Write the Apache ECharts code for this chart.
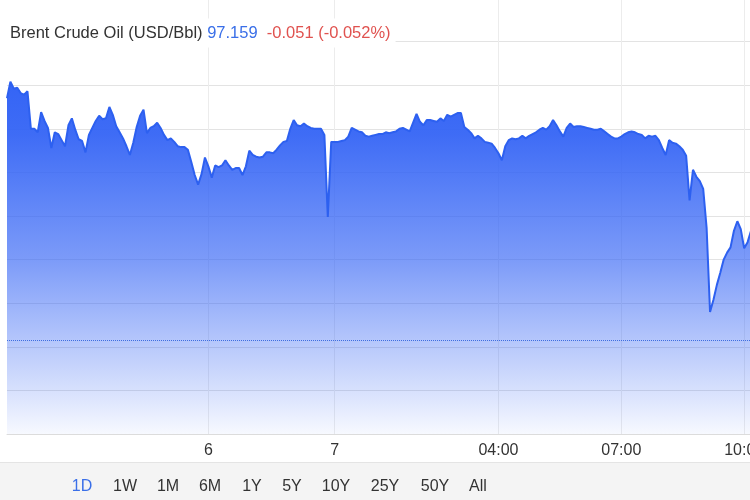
<!DOCTYPE html>
<html>
<head>
<meta charset="utf-8">
<script src="https://cdn.jsdelivr.net/npm/echarts@6/dist/echarts.min.js"></script>
<style>
  html, body { margin: 0; padding: 0; background: #fff; }
  #chart { width: 750px; height: 500px; }
</style>
</head>
<body>
<div id="chart"></div>
<script>
// ---- header text ----
const seriesName = 'Brent Crude Oil (USD/Bbl)';
const lastPrice = '97.159';
const changeText = '-0.051 (-0.052%)';
const prevClose = 96.07;

// ---- time axis: 5-minute bars from 16:00 to 10:10 next day ----
const startTime = '16:00';
const barMinutes = 5;
const barCount = 219;

// ---- x tick labels ----
const tickTimes = ['20:55', '00:00', '04:00', '07:00', '10:00'];
const tickLabels = ['6', '7', '04:00', '07:00', '10:00'];

// ---- range buttons ----
const rangeLabels = ['1D', '1W', '1M', '6M', '1Y', '5Y', '10Y', '25Y', '50Y', 'All'];
const rangeActive = '1D';

// ---- price series (USD/Bbl), one value per 5-minute bar ----
const prices = [
  98.85, 99.04, 98.96, 98.97, 98.91, 98.89, 98.93, 98.50, 98.50, 98.46,
  98.69, 98.59, 98.51, 98.28, 98.46, 98.44, 98.37, 98.30, 98.54, 98.62,
  98.49, 98.38, 98.36, 98.23, 98.43, 98.51, 98.59, 98.65, 98.61, 98.62,
  98.75, 98.66, 98.53, 98.46, 98.39, 98.30, 98.20, 98.34, 98.52, 98.65,
  98.72, 98.45, 98.51, 98.53, 98.57, 98.51, 98.43, 98.37, 98.39, 98.35,
  98.30, 98.29, 98.29, 98.26, 98.12, 97.97, 97.86, 97.98, 98.17, 98.07,
  97.94, 98.08, 98.06, 98.08, 98.14, 98.08, 98.03, 98.05, 98.05, 97.97,
  98.07, 98.25, 98.20, 98.18, 98.17, 98.18, 98.23, 98.23, 98.22, 98.26,
  98.31, 98.35, 98.36, 98.50, 98.60, 98.54, 98.53, 98.56, 98.53, 98.51,
  98.50, 98.50, 98.50, 98.43, 97.49, 98.35, 98.35, 98.35, 98.36, 98.37,
  98.41, 98.51, 98.49, 98.47, 98.46, 98.42, 98.41, 98.42, 98.43, 98.44,
  98.44, 98.46, 98.45, 98.46, 98.47, 98.50, 98.51, 98.49, 98.47, 98.57,
  98.67, 98.58, 98.54, 98.60, 98.60, 98.59, 98.58, 98.62, 98.59, 98.66,
  98.64, 98.66, 98.68, 98.68, 98.52, 98.49, 98.45, 98.39, 98.42, 98.39,
  98.35, 98.34, 98.33, 98.28, 98.22, 98.14, 98.30, 98.37, 98.39, 98.38,
  98.39, 98.42, 98.39, 98.42, 98.44, 98.46, 98.49, 98.51, 98.49, 98.53,
  98.60, 98.54, 98.47, 98.41, 98.51, 98.56, 98.52, 98.53, 98.53, 98.52,
  98.51, 98.50, 98.49, 98.49, 98.50, 98.47, 98.44, 98.41, 98.39, 98.39,
  98.41, 98.44, 98.46, 98.47, 98.46, 98.44, 98.43, 98.39, 98.42, 98.41,
  98.42, 98.37, 98.28, 98.20, 98.37, 98.34, 98.33, 98.30, 98.26, 98.19,
  97.68, 98.03, 97.95, 97.90, 97.81, 97.36, 96.40, 96.54, 96.71, 96.85,
  97.00, 97.08, 97.14, 97.33, 97.44, 97.35, 97.13, 97.20, 97.33
];

// ---- y scale ----
const yMin = 95;
const yMax = 100;
const yStep = 0.5;

function pad2(n) { return (n < 10 ? '0' : '') + n; }
const categories = [];
(function () {
  const parts = startTime.split(':');
  const start = parseInt(parts[0], 10) * 60 + parseInt(parts[1], 10);
  for (let k = 0; k < barCount; k++) {
    const t = (start + k * barMinutes) % 1440;
    categories.push(pad2(Math.floor(t / 60)) + ':' + pad2(t % 60));
  }
})();

const FONT = '"Liberation Sans", Arial, sans-serif';
const BLUE = '#3a6fe8';
const LINE = '#2d60f0';

const chart = echarts.init(document.getElementById('chart'), null, { renderer: 'canvas' });

const buttonCenters = [82, 125, 168, 210, 252, 292, 336, 385, 435, 478];
const graphics = [
  {
    type: 'rect', left: 0, top: 463, silent: true, z: -1,
    shape: { width: 750, height: 37 },
    style: { fill: '#f4f4f4' }
  },
  {
    type: 'rect', left: 0, top: 462, silent: true, z: -1,
    shape: { width: 750, height: 1 },
    style: { fill: '#e4e4e4' }
  }
];
rangeLabels.forEach(function (lab, k) {
  graphics.push({
    type: 'text', x: buttonCenters[k], y: 487, silent: true,
    style: {
      text: lab, fill: lab === rangeActive ? BLUE : '#333333',
      font: '16px ' + FONT, textAlign: 'center', textVerticalAlign: 'middle'
    }
  });
});

const tickFilter = function (idx, val) { return tickTimes.indexOf(val) >= 0; };

chart.setOption({
  animation: false,
  backgroundColor: '#ffffff',
  title: {
    left: 0, top: 19,
    padding: [6, 5, 6, 10],
    backgroundColor: '#ffffff',
    text: seriesName + ' {v|' + lastPrice + '}  {c|' + changeText + '}',
    textStyle: {
      fontFamily: FONT, fontSize: 16.5, fontWeight: 'normal', color: '#333333', lineHeight: 16,
      rich: {
        v: { fontFamily: FONT, fontSize: 16.5, color: BLUE, lineHeight: 16 },
        c: { fontFamily: FONT, fontSize: 16.5, color: '#e0524f', lineHeight: 16 }
      }
    }
  },
  grid: { left: 7, top: -2, width: 744, height: 436, containLabel: false, outerBoundsMode: 'none' },
  xAxis: {
    type: 'category',
    data: categories,
    boundaryGap: false,
    axisLine: { show: true, lineStyle: { color: '#dcdcdc', width: 1 } },
    axisTick: { show: false },
    axisLabel: {
      show: true,
      color: '#333333', fontSize: 16, fontFamily: FONT, margin: 9,
      interval: tickFilter,
      formatter: function (val) {
        const k = tickTimes.indexOf(val);
        return k >= 0 ? tickLabels[k] : '';
      }
    },
    splitLine: {
      show: true,
      interval: tickFilter,
      lineStyle: { color: '#ececec', width: 1 }
    }
  },
  yAxis: {
    type: 'value',
    min: yMin, max: yMax, interval: yStep,
    axisLine: { show: false },
    axisTick: { show: false },
    axisLabel: { show: false },
    splitLine: { show: true, lineStyle: { color: '#e3e3e3', width: 1 } }
  },
  series: [{
    type: 'line',
    name: seriesName,
    data: prices,
    showSymbol: false,
    symbol: 'none',
    smooth: false,
    lineStyle: { color: LINE, width: 2 },
    areaStyle: {
      opacity: 1,
      color: new echarts.graphic.LinearGradient(0, 0, 0, 1, [
        { offset: 0, color: 'rgba(52,100,245,1.0)' },
        { offset: 0.15, color: 'rgba(52,100,245,0.95)' },
        { offset: 0.5, color: 'rgba(52,100,245,0.65)' },
        { offset: 0.75, color: 'rgba(52,100,245,0.35)' },
        { offset: 0.9, color: 'rgba(52,100,245,0.17)' },
        { offset: 1, color: 'rgba(52,100,245,0.04)' }
      ])
    },
    markLine: {
      silent: true,
      symbol: 'none',
      label: { show: false },
      lineStyle: { type: 'dotted', color: '#3f6ee0', width: 1 },
      data: [{ yAxis: prevClose }]
    }
  }],
  graphic: graphics
});
</script>
</body>
</html>
